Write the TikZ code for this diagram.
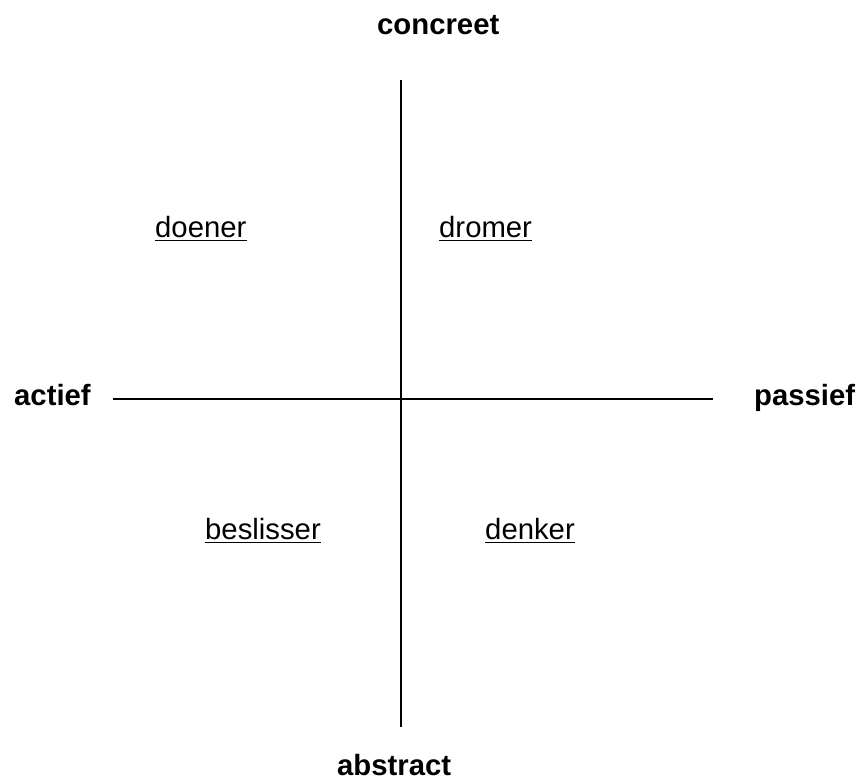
\documentclass[tikz,border=0pt]{standalone}
\usepackage{fontspec}
\setmainfont{Liberation Sans}
\begin{document}
\begin{tikzpicture}[x=1pt,y=-1pt,
  axislabel/.style={anchor=base west,inner sep=0pt,font=\fontsize{29.3}{35}\selectfont\bfseries},
  typelabel/.style={anchor=base west,inner sep=0pt,font=\fontsize{29.3}{35}\selectfont},
  axisline/.style={line width=2pt,black},
  uline/.style={line width=1.6pt,black}]
\useasboundingbox (0,0) rectangle (858,778);
\coordinate (top) at (401,80);
\coordinate (bottom) at (401,727);
\coordinate (left) at (113,399);
\coordinate (right) at (713,399);
\draw[axisline] (top) -- (bottom);
\draw[axisline] (left) -- (right);
\node[axislabel] (concreet) at (377,35) {concreet};
\node[axislabel] (abstract) at (337,775) {abstract};
\node[axislabel] (actief) at (14,405) {actief};
\node[axislabel] (passief) at (754,405) {passief};
\node[typelabel] (doener) at (155,237) {doener};
\node[typelabel] (dromer) at (439,237) {dromer};
\node[typelabel] (beslisser) at (205,539) {beslisser};
\node[typelabel] (denker) at (485,539) {denker};
\foreach \n in {doener,dromer,beslisser,denker}{
  \draw[uline] ([yshift=-3.5pt]\n.base west) -- ([yshift=-3.5pt]\n.base east);
}
\end{tikzpicture}
\end{document}
